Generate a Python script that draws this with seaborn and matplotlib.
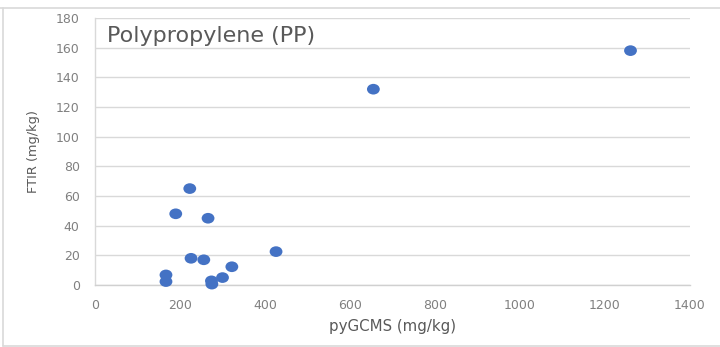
import numpy as np
import pandas as pd
import matplotlib
matplotlib.use("Agg")
import matplotlib.pyplot as plt
from matplotlib.path import Path
from matplotlib.lines import Line2D
import seaborn as sns

# Data
pygcms = [1260, 655, 223, 190, 266, 426, 226, 256, 322, 300, 167, 167, 274, 275]
ftir = [158, 132, 65, 48, 45, 22.5, 18, 17, 12.3, 5, 6.8, 2.3, 2.8, 0.6]
x_ticks = [0, 200, 400, 600, 800, 1000, 1200, 1400]
y_ticks = [0, 20, 40, 60, 80, 100, 120, 140, 160, 180]
title = "Polypropylene (PP)"
x_label = "pyGCMS (mg/kg)"
y_label = "FTIR (mg/kg)"

df = pd.DataFrame({"pyGCMS": pygcms, "FTIR": ftir})

sns.set_theme(style="white")
plt.rcParams['font.family'] = ['DejaVu Sans']

W, H = 720, 347
fig = plt.figure(figsize=(W / 100, H / 100), dpi=100)
ax = fig.add_axes([95 / W, (H - 285) / H, (690 - 95) / W, (285 - 18) / H])

# elliptical marker
circ = Path.unit_circle()
ell = Path(circ.vertices * np.array([1.2, 1.0]), circ.codes)

sns.scatterplot(data=df, x="pyGCMS", y="FTIR", ax=ax, marker=ell, s=85,
                color="#4472C4", edgecolor="none", linewidth=0, zorder=3, clip_on=False)

ax.set_xlim(0, 1400)
ax.set_ylim(0, 180)
ax.set_xticks(x_ticks)
ax.set_yticks(y_ticks)
ax.grid(axis="y", color="#d9d9d9", linewidth=1.0)
ax.grid(axis="x", visible=False)
ax.set_axisbelow(True)
for s in ["top", "right"]:
    ax.spines[s].set_visible(False)
ax.spines["left"].set_color("#d9d9d9")
ax.spines["bottom"].set_color("#d0d0d0")
ax.spines["left"].set_linewidth(1.0)
ax.spines["bottom"].set_linewidth(1.0)

ax.tick_params(axis="both", length=0, labelsize=9, labelcolor="#808080")
ax.tick_params(axis="y", pad=11)
ax.tick_params(axis="x", pad=10)

ax.set_xlabel(x_label, fontsize=10.8, color="#595959")
ax.set_ylabel(y_label, fontsize=9.3, color="#595959")
ax.xaxis.set_label_coords(0.5, -(327 - 285) / (285 - 18), transform=ax.transAxes)
ax.yaxis.set_label_coords(-(95 - 33) / (690 - 95), 0.5)
ax.xaxis.label.set_verticalalignment("center")
ax.yaxis.label.set_verticalalignment("center")

ax.text(107 / W, (H - 36) / H, title, transform=fig.transFigure, fontsize=16,
        color="#595959", va="center", ha="left")

# outer chart frame
frame_c = "#d9d9d9"
fig.add_artist(Line2D([0, 1], [(H - 8) / H] * 2, transform=fig.transFigure, color=frame_c, lw=1.2))
fig.add_artist(Line2D([3 / W] * 2, [(H - 8) / H, (H - 346) / H], transform=fig.transFigure, color=frame_c, lw=1.2))
fig.add_artist(Line2D([3 / W, 1], [(H - 346) / H] * 2, transform=fig.transFigure, color=frame_c, lw=1.2))

fig.savefig("out.png", dpi=100)
